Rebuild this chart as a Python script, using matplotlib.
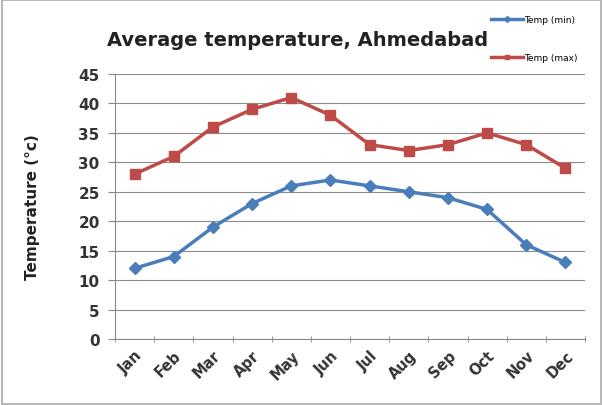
import numpy as np
import matplotlib.pyplot as plt
from matplotlib.patches import Rectangle

months = ['Jan', 'Feb', 'Mar', 'Apr', 'May', 'Jun', 'Jul', 'Aug', 'Sep', 'Oct', 'Nov', 'Dec']
temp_min = [12, 14, 19, 23, 26, 27, 26, 25, 24, 22, 16, 13]
temp_max = [28, 31, 36, 39, 41, 38, 33, 32, 33, 35, 33, 29]

fig = plt.figure(figsize=(6.03, 4.06), dpi=100)
ax = fig.add_axes([115/603, 1-340/406, 470/603, 265/406])

x = np.arange(len(months))
ax.plot(x, temp_min, color='#4A7EBB', lw=2.5, marker='D', ms=6, label='Temp (min)')
ax.plot(x, temp_max, color='#BE4B48', lw=2.5, marker='s', ms=6.5, label='Temp (max)')

ax.set_xlim(-0.5, 11.5)
ax.set_ylim(0, 45)
ax.set_yticks(range(0, 46, 5))
ax.set_xticks(x)
ax.set_xticklabels(months, rotation=45, ha='right', rotation_mode='anchor',
                   fontsize=10.5, fontweight='bold', color='#333333')
for t in ax.get_yticklabels():
    t.set_fontweight('bold')
    t.set_color('#333333')
ax.set_xticks(np.arange(-0.5, 12, 1), minor=True)
ax.tick_params(axis='x', which='major', length=0, pad=6)
ax.tick_params(axis='x', which='minor', length=5, color='#888888', direction='inout')
ax.tick_params(axis='y', length=5, color='#888888', direction='out', labelsize=11, pad=6)
ax.grid(axis='y', color='#8c8c8c', lw=0.8)
ax.set_axisbelow(True)
for s in ['top', 'right']:
    ax.spines[s].set_visible(False)
for s in ['left', 'bottom']:
    ax.spines[s].set_color('#888888')

ax.set_ylabel('Temperature (°c)', fontsize=11, fontweight='bold', color='#222222')
ax.yaxis.set_label_coords(-0.16, 0.5)
fig.text(298/603, 1-40/406, 'Average temperature, Ahmedabad', fontsize=14,
         fontweight='bold', ha='center', va='center', color='#222222')

fig.legend(loc='upper left', bbox_to_anchor=(483/603, 1-8/406), frameon=False,
           fontsize=6.5, handlelength=3.5, labelspacing=3.2, handletextpad=0.1,
           markerscale=0.5)

fig.patches.append(Rectangle((0.003, 0.003), 0.994, 0.994, transform=fig.transFigure,
                             fill=False, edgecolor='#aaaaaa', lw=1.2))

fig.savefig('out.png', dpi=100)
